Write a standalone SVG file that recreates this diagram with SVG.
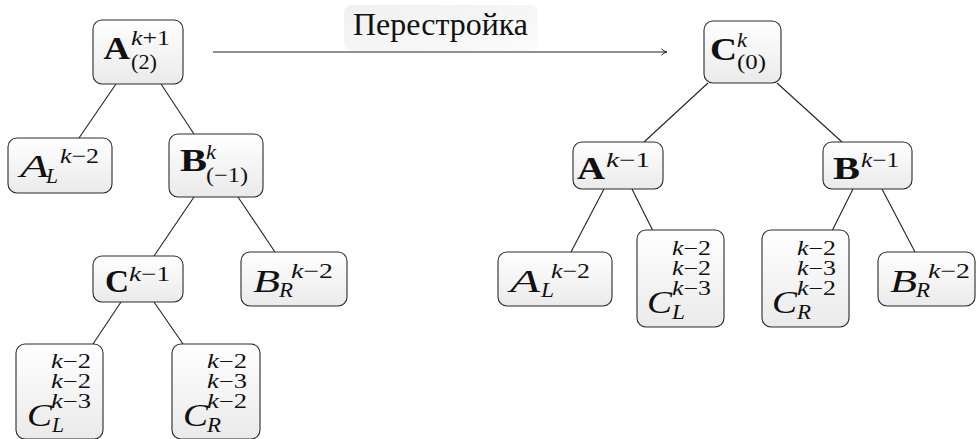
<svg xmlns="http://www.w3.org/2000/svg" width="979" height="439" viewBox="0 0 979 439">
<style>
.box{fill:url(#g);stroke:#2a2a2a;stroke-width:1.1}
.e{stroke:#222;stroke-width:1.1;fill:none}
text{font-family:"Liberation Serif","DejaVu Serif",serif;fill:#111}
.b{font-size:32px;font-weight:bold}
.m{font-size:32px;font-style:italic}
.s{font-size:21px}
.t{font-size:20px}
.i{font-style:italic}
</style>
<defs>
<linearGradient id="g" x1="0" y1="0" x2="0" y2="1"><stop offset="0" stop-color="#ffffff"/><stop offset="1" stop-color="#eaeaea"/></linearGradient>
<linearGradient id="g2" x1="0" y1="0" x2="1" y2="1"><stop offset="0" stop-color="#f0f0f0"/><stop offset="1" stop-color="#fbfbfb"/></linearGradient>
<marker id="ar" viewBox="0 0 10 10" refX="9" refY="5" markerWidth="8" markerHeight="8" markerUnits="userSpaceOnUse" orient="auto"><path d="M2,1 Q5,4 9,5 Q5,6 2,9" fill="none" stroke="#222" stroke-width="1.2"/></marker>
</defs>
<g id="connectors">
<line class="e" x1="116" y1="84" x2="79" y2="138"/>
<line class="e" x1="161" y1="84" x2="194" y2="134"/>
<line class="e" x1="194" y1="197" x2="154" y2="256"/>
<line class="e" x1="238" y1="197" x2="275" y2="252"/>
<line class="e" x1="121" y1="302" x2="93" y2="344"/>
<line class="e" x1="154" y1="302" x2="183" y2="344"/>
<line class="e" x1="708" y1="83" x2="644" y2="142"/>
<line class="e" x1="777" y1="83" x2="842" y2="142"/>
<line class="e" x1="604" y1="189" x2="571" y2="252"/>
<line class="e" x1="632" y1="189" x2="653" y2="231"/>
<line class="e" x1="853" y1="189" x2="832" y2="231"/>
<line class="e" x1="882" y1="189" x2="915" y2="252"/>
<line class="e" x1="213" y1="52" x2="667" y2="52" marker-end="url(#ar)"/>
</g>
<g id="label">
<rect x="344" y="5" width="194" height="46" rx="8" fill="url(#g2)"/>
<text x="353" y="35" font-size="32" textLength="175" lengthAdjust="spacingAndGlyphs">Перестройка</text>
</g>
<g id="A2">
<rect class="box" x="93" y="20" width="90" height="64" rx="9"/>
<text class="b" x="103.5" y="58.5" textLength="26.5" lengthAdjust="spacingAndGlyphs">A</text>
<text class="s" x="131" y="44.5" textLength="39" lengthAdjust="spacingAndGlyphs"><tspan class="i">k</tspan>+1</text>
<text class="s" x="131" y="69" textLength="26" lengthAdjust="spacingAndGlyphs">(2)</text>
</g>
<g id="ALleft">
<rect class="box" x="8" y="138" width="104" height="55" rx="9"/>
<text class="m" x="20" y="177" textLength="29" lengthAdjust="spacingAndGlyphs">A</text>
<text class="s i" x="46" y="183" textLength="12" lengthAdjust="spacingAndGlyphs">L</text>
<text class="s" x="60" y="163" textLength="39" lengthAdjust="spacingAndGlyphs"><tspan class="i">k</tspan>−2</text>
</g>
<g id="Bm1">
<rect class="box" x="169" y="134" width="94" height="63" rx="9"/>
<text class="b" x="180" y="171" textLength="27" lengthAdjust="spacingAndGlyphs">B</text>
<text class="s i" x="206" y="159" textLength="10" lengthAdjust="spacingAndGlyphs">k</text>
<text class="s" x="206" y="181.5" textLength="42" lengthAdjust="spacingAndGlyphs">(−1)</text>
</g>
<g id="Ck1">
<rect class="box" x="93" y="256" width="90" height="46" rx="9"/>
<text class="b" x="105" y="292" textLength="24" lengthAdjust="spacingAndGlyphs">C</text>
<text class="s" x="129" y="281" textLength="41" lengthAdjust="spacingAndGlyphs"><tspan class="i">k</tspan>−1</text>
</g>
<g id="BRleft">
<rect class="box" x="241" y="252" width="106" height="54" rx="9"/>
<text class="m" x="253" y="292" textLength="27" lengthAdjust="spacingAndGlyphs">B</text>
<text class="s i" x="279" y="297" textLength="14" lengthAdjust="spacingAndGlyphs">R</text>
<text class="s" x="291" y="278" textLength="42" lengthAdjust="spacingAndGlyphs"><tspan class="i">k</tspan>−2</text>
</g>
<g id="CLleft">
<rect class="box" x="16" y="344" width="87" height="95" rx="9"/>
<text class="t" x="51" y="368" textLength="40" lengthAdjust="spacingAndGlyphs"><tspan class="i">k</tspan>−2</text>
<text class="t" x="51" y="388" textLength="40" lengthAdjust="spacingAndGlyphs"><tspan class="i">k</tspan>−2</text>
<text class="t" x="51" y="408" textLength="40" lengthAdjust="spacingAndGlyphs"><tspan class="i">k</tspan>−3</text>
<text class="m" x="27" y="426" textLength="25" lengthAdjust="spacingAndGlyphs">C</text>
<text class="s i" x="52" y="432" textLength="12" lengthAdjust="spacingAndGlyphs">L</text>
</g>
<g id="CRleft">
<rect class="box" x="172" y="344" width="88" height="95" rx="9"/>
<text class="t" x="207" y="368" textLength="40" lengthAdjust="spacingAndGlyphs"><tspan class="i">k</tspan>−2</text>
<text class="t" x="207" y="388" textLength="40" lengthAdjust="spacingAndGlyphs"><tspan class="i">k</tspan>−3</text>
<text class="t" x="207" y="408" textLength="40" lengthAdjust="spacingAndGlyphs"><tspan class="i">k</tspan>−2</text>
<text class="m" x="183" y="426" textLength="25" lengthAdjust="spacingAndGlyphs">C</text>
<text class="s i" x="207" y="432" textLength="14" lengthAdjust="spacingAndGlyphs">R</text>
</g>
<g id="C0">
<rect class="box" x="704" y="21" width="77" height="62" rx="9"/>
<text class="b" x="710" y="59.5" textLength="27" lengthAdjust="spacingAndGlyphs">C</text>
<text class="s i" x="737" y="47" textLength="10" lengthAdjust="spacingAndGlyphs">k</text>
<text class="s" x="737" y="69" textLength="29" lengthAdjust="spacingAndGlyphs">(0)</text>
</g>
<g id="Ak1">
<rect class="box" x="573" y="142" width="90" height="47" rx="9"/>
<text class="b" x="577" y="179" textLength="28" lengthAdjust="spacingAndGlyphs">A</text>
<text class="s" x="606" y="167" textLength="44" lengthAdjust="spacingAndGlyphs"><tspan class="i">k</tspan>−1</text>
</g>
<g id="Bk1">
<rect class="box" x="823" y="142" width="89" height="47" rx="9"/>
<text class="b" x="833" y="179" textLength="27" lengthAdjust="spacingAndGlyphs">B</text>
<text class="s" x="861" y="167" textLength="38" lengthAdjust="spacingAndGlyphs"><tspan class="i">k</tspan>−1</text>
</g>
<g id="ALright">
<rect class="box" x="498" y="252" width="114" height="54" rx="9"/>
<text class="m" x="510" y="292" textLength="30" lengthAdjust="spacingAndGlyphs">A</text>
<text class="s i" x="541" y="297" textLength="13" lengthAdjust="spacingAndGlyphs">L</text>
<text class="s" x="551" y="278" textLength="39" lengthAdjust="spacingAndGlyphs"><tspan class="i">k</tspan>−2</text>
</g>
<g id="CLright">
<rect class="box" x="637" y="230" width="87" height="97" rx="9"/>
<text class="t" x="672" y="255" textLength="39" lengthAdjust="spacingAndGlyphs"><tspan class="i">k</tspan>−2</text>
<text class="t" x="672" y="275" textLength="39" lengthAdjust="spacingAndGlyphs"><tspan class="i">k</tspan>−2</text>
<text class="t" x="672" y="295" textLength="39" lengthAdjust="spacingAndGlyphs"><tspan class="i">k</tspan>−3</text>
<text class="m" x="647" y="313" textLength="25" lengthAdjust="spacingAndGlyphs">C</text>
<text class="s i" x="672" y="319" textLength="13" lengthAdjust="spacingAndGlyphs">L</text>
</g>
<g id="CRright">
<rect class="box" x="762" y="230" width="87" height="97" rx="9"/>
<text class="t" x="797" y="255" textLength="39" lengthAdjust="spacingAndGlyphs"><tspan class="i">k</tspan>−2</text>
<text class="t" x="797" y="275" textLength="39" lengthAdjust="spacingAndGlyphs"><tspan class="i">k</tspan>−3</text>
<text class="t" x="797" y="295" textLength="39" lengthAdjust="spacingAndGlyphs"><tspan class="i">k</tspan>−2</text>
<text class="m" x="772" y="313" textLength="25" lengthAdjust="spacingAndGlyphs">C</text>
<text class="s i" x="797" y="319" textLength="14" lengthAdjust="spacingAndGlyphs">R</text>
</g>
<g id="BRright">
<rect class="box" x="878" y="252" width="97" height="54" rx="9"/>
<text class="m" x="890" y="292" textLength="27" lengthAdjust="spacingAndGlyphs">B</text>
<text class="s i" x="916" y="297" textLength="14" lengthAdjust="spacingAndGlyphs">R</text>
<text class="s" x="928" y="278" textLength="42" lengthAdjust="spacingAndGlyphs"><tspan class="i">k</tspan>−2</text>
</g>
</svg>
